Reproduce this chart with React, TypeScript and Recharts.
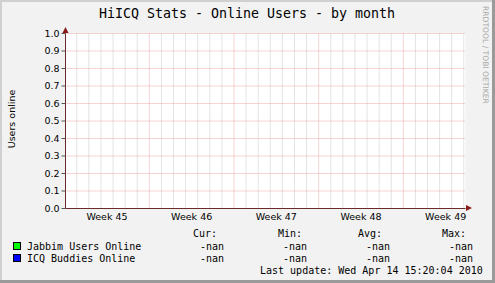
import React from 'react';
import { LineChart, Line, XAxis, YAxis, CartesianGrid, ReferenceLine } from 'recharts';

// time axis in days from the left edge of the graph (one month window)
const TIME_SPAN = [0, 33.07];
const WEEK_LABELS = ['Week 45', 'Week 46', 'Week 47', 'Week 48', 'Week 49'];
const WEEK_LABEL_DAYS = [3.43, 10.43, 17.43, 24.43, 31.43];
const WEEK_START_DAYS = [6.93, 13.93, 20.93, 27.93];
const DAY_GRID = [
  0.93, 1.93, 2.93, 3.93, 4.93, 5.93, 7.93, 8.93, 9.93, 10.93, 11.93, 12.93,
  14.93, 15.93, 16.93, 17.93, 18.93, 19.93, 21.93, 22.93, 23.93, 24.93, 25.93, 26.93,
  28.93, 29.93, 30.93, 31.93, 32.93,
];
const Y_TICKS = [0, 0.1, 0.2, 0.3, 0.4, 0.5, 0.6, 0.7, 0.8, 0.9, 1.0];

// no samples in the rrd: every value is NaN
const SAMPLE_DAYS = [0, 33.07];
const JABBIM_ONLINE = [null, null];
const ICQ_ONLINE = [null, null];

const SERIES = [
  { key: 'jabbim', name: 'Jabbim Users Online', color: '#00FF00' },
  { key: 'icq', name: 'ICQ Buddies Online', color: '#0000FF' },
];
const STAT_HEADERS = ['Cur:', 'Min:', 'Avg:', 'Max:'];
const STAT_VALUES = [
  ['-nan', '-nan', '-nan', '-nan'],
  ['-nan', '-nan', '-nan', '-nan'],
];

const data = SAMPLE_DAYS.map((d, i) => ({ day: d, jabbim: JABBIM_ONLINE[i], icq: ICQ_ONLINE[i] }));

const MONO = '"DejaVu Sans Mono", monospace';
const SANS = '"DejaVu Sans", sans-serif';
const HEAD_X = [193, 278, 358, 442];
const VAL_X = [200, 283, 366, 449];
const MGRID = '#f0a6a6';
const GRID = '#c6c6c6';

const App: React.FC = () => {
  return (
    <div style={{ position: 'absolute', left: 0, top: 0, width: 495, height: 283, background: '#f2f2f2' }}>
      <LineChart width={495} height={283} data={data} margin={{ top: 33.5, right: 29.5, bottom: 59.5, left: 35.5 }}>
        <CartesianGrid horizontal={false} vertical={false} fill="#ffffff" />
        {DAY_GRID.map((d) => (
          <ReferenceLine key={`d-${d}`} x={d} stroke={GRID} strokeDasharray="1 1" />
        ))}
        {Y_TICKS.map((t) => (
          <ReferenceLine key={`h-${t}`} y={t} stroke={MGRID} strokeDasharray="1 1" />
        ))}
        {WEEK_START_DAYS.map((d) => (
          <ReferenceLine key={`w-${d}`} x={d} stroke={MGRID} strokeDasharray="1 1" />
        ))}
        <XAxis
          dataKey="day"
          type="number"
          domain={TIME_SPAN}
          ticks={WEEK_LABEL_DAYS}
          tickFormatter={(v: number) => WEEK_LABELS[WEEK_LABEL_DAYS.indexOf(v)]}
          tickLine={false}
          tickSize={5}
          tickMargin={0}
          height={15}
          axisLine={{ stroke: '#6b2b2b' }}
          tick={{ fill: '#000', fontSize: 9.5, fontFamily: SANS }}
          allowDataOverflow
        />
        <YAxis
          type="number"
          domain={[0, 1]}
          ticks={Y_TICKS}
          tickFormatter={(v: number) => v.toFixed(1)}
          width={30}
          tickSize={4}
          tickMargin={2}
          tickLine={{ stroke: '#555' }}
          axisLine={{ stroke: '#6b2b2b' }}
          tick={{ fill: '#000', fontSize: 9.5, fontFamily: SANS }}
          allowDataOverflow
        />
        {SERIES.map((s) => (
          <Line key={s.key} dataKey={s.key} name={s.name} stroke={s.color} dot={false} isAnimationActive={false} />
        ))}
      </LineChart>
      <svg width={495} height={283} style={{ position: 'absolute', left: 0, top: 0, pointerEvents: 'none' }}>
        <rect x={0} y={0} width={495} height={2} fill="#d0d0d0" />
        <rect x={0} y={0} width={2} height={283} fill="#d0d0d0" />
        <rect x={492} y={0} width={3} height={283} fill="#9a9a9a" />
        <rect x={0} y={280} width={495} height={3} fill="#9a9a9a" />
        <polygon points="62.5,33 68.5,33 65.5,27" fill="#8a1a1a" />
        <polygon points="466,205 466,211 472,208" fill="#8a1a1a" />
        <text x={247} y={17.5} textAnchor="middle" fontFamily={MONO} fontSize={13.3} fill="#000">
          HiICQ Stats - Online Users - by month
        </text>
        <text
          transform="translate(14.5,119) rotate(-90)"
          textAnchor="middle"
          fontFamily={SANS}
          fontSize={9.5}
          fill="#000"
        >
          Users online
        </text>
        <text
          transform="translate(482.5,6) rotate(90)"
          fontFamily={SANS}
          fontSize={7.6}
          fill="#a8a8a8"
        >
          RRDTOOL / TOBI OETIKER
        </text>
        {STAT_HEADERS.map((h, i) => (
          <text key={h} x={HEAD_X[i]} y={237} fontFamily={MONO} fontSize={10} fill="#000">
            {h}
          </text>
        ))}
        {SERIES.map((s, r) => (
          <g key={s.key}>
            <rect x={13.5} y={242.5 + r * 12} width={7} height={7} fill={s.color} stroke="#000" strokeWidth={1} />
            <text x={27} y={249.5 + r * 12} fontFamily={MONO} fontSize={10} fill="#000">
              {s.name}
            </text>
            {STAT_VALUES[r].map((v, i) => (
              <text key={i} x={VAL_X[i]} y={249.5 + r * 12} fontFamily={MONO} fontSize={10} fill="#000">
                {v}
              </text>
            ))}
          </g>
        ))}
        <text x={260} y={273.5} fontFamily={MONO} fontSize={10} fill="#000">
          Last update: Wed Apr 14 15:20:04 2010
        </text>
      </svg>
    </div>
  );
};

export default App;
